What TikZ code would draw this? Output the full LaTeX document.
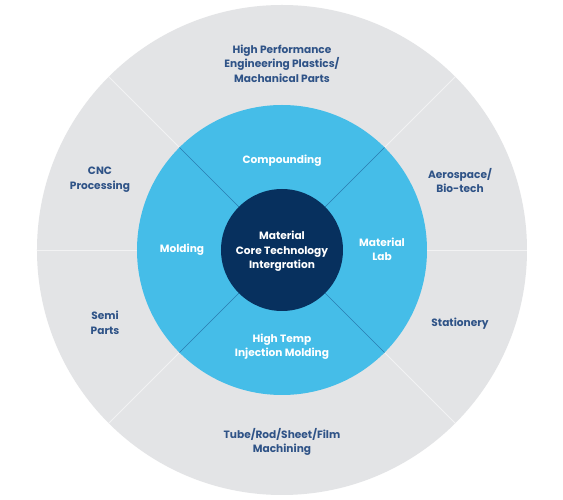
\documentclass[tikz,border=0pt]{standalone}
\usepackage{fontspec}
\setmainfont{Poppins}
\usetikzlibrary{positioning}
\definecolor{ringGray} {HTML}{E3E4E6}
\definecolor{ringBlue} {HTML}{45BDE8}
\definecolor{coreNavy} {HTML}{07305E}
\definecolor{labelBlue}{HTML}{2F5387}
\definecolor{splitBlue}{HTML}{2B7DB0}
\definecolor{splitGray}{HTML}{F2F2F3}
\tikzset{
  font=\bfseries\fontsize{10.6}{14.5}\selectfont,
  outerlbl/.style={align=center,text=labelBlue},
  innerlbl/.style={align=center,text=white},
  outersplit/.style={draw=splitGray,line width=0.9pt},
  innersplit/.style={draw=splitBlue,line width=0.6pt},
}

\begin{document}
\begin{tikzpicture}[x=1pt,y=1pt]

\useasboundingbox[fill=white] (-282,-250) rectangle (281,250);

% rings
\fill[ringGray] (0,0) circle (245);
\foreach \a in {0,45,135,180,225,315}
  \draw[outersplit] (\a:145) -- (\a:245);
\fill[ringBlue] (0,0) circle (145);
\foreach \a in {45,135,225,315}
  \draw[innersplit] (\a:61) -- (\a:145);

\node[circle,fill=coreNavy,minimum size=122pt,inner sep=0pt] (core) at (0,0) {};
\node[innerlbl] (corelbl) at (0,-1.5) {Material\\Core Technology\\Intergration};

% blue ring
\node[innerlbl] (comp)  at (0,89)    {Compounding};
\node[innerlbl] (mold)  at (-100,0.5){Molding};
\node[innerlbl] (mlab)  at (100,0.5) {Material\\Lab};
\node[innerlbl] (htemp) at (0,-96.5) {High Temp\\Injection Molding};

% gray ring
\node[outerlbl] (perf) at (0,186.5)   {High Performance\\Engineering Plastics/\\Machanical Parts};
\node[outerlbl] (cnc)  at (-182,70.5) {CNC\\Processing};
\node[outerlbl] (aero) at (178,69.5)  {Aerospace/\\Bio-tech};
\node[outerlbl] (semi) at (-177,-73)  {Semi\\Parts};
\node[outerlbl] (stat) at (178,-73.5) {Stationery};
\node[outerlbl] (tube) at (0,-192)    {Tube/Rod/Sheet/Film\\Machining};

\end{tikzpicture}
\end{document}
